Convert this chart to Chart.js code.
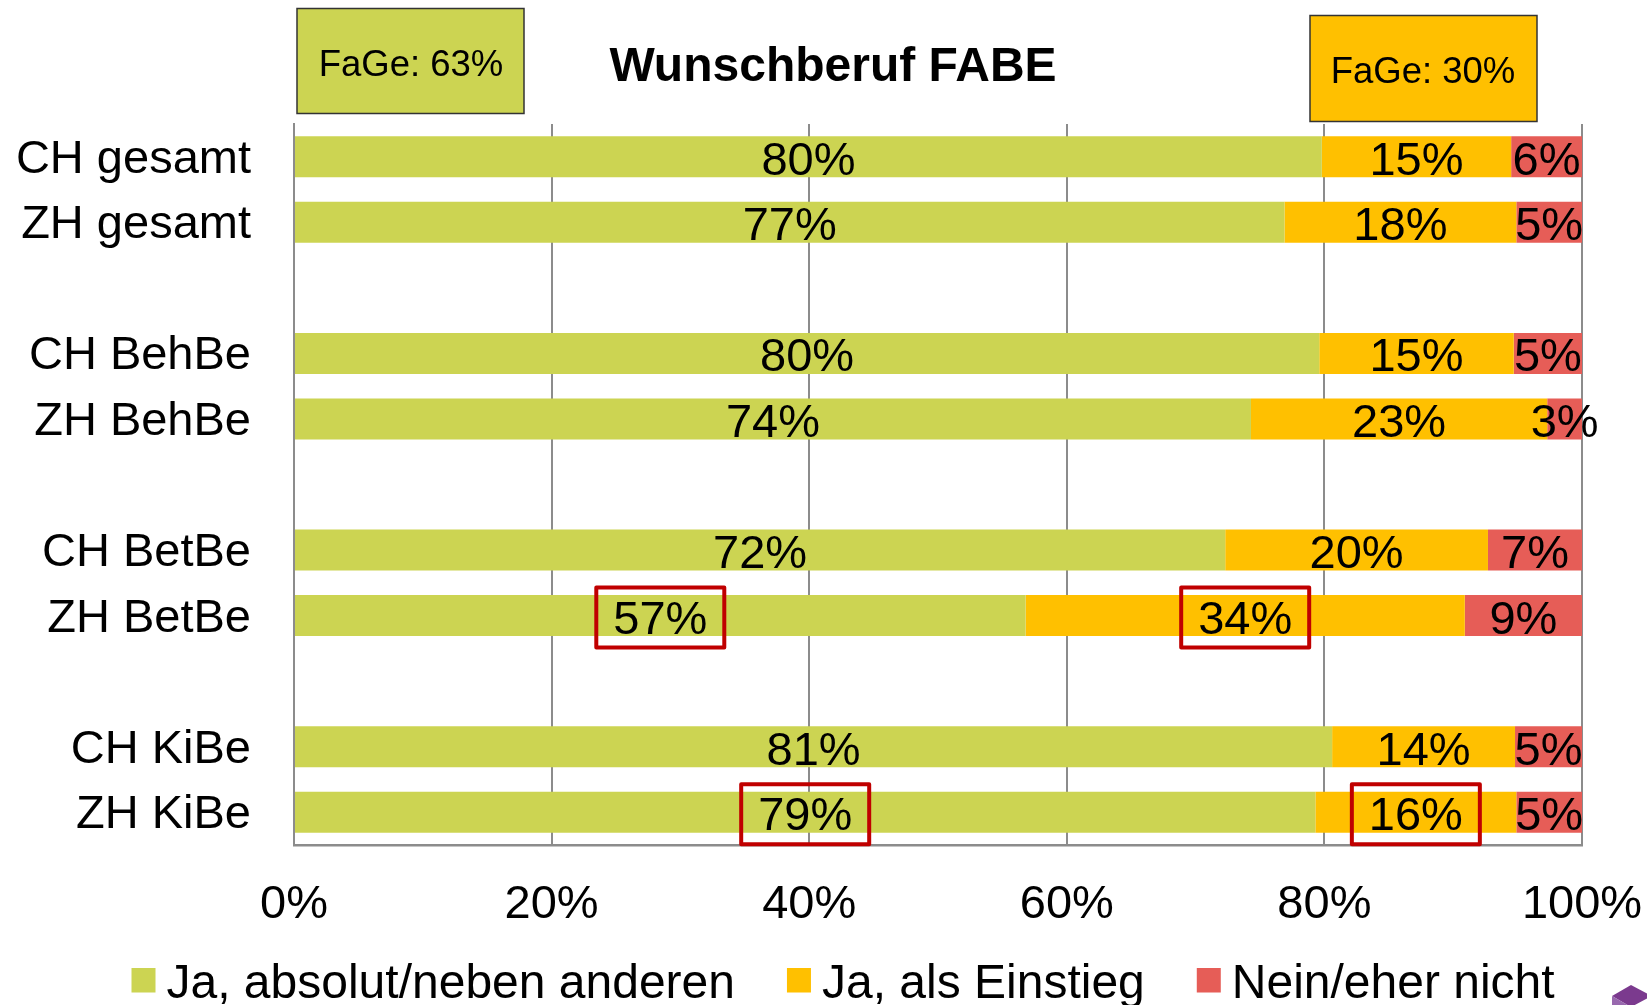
<!DOCTYPE html>
<html>
<head>
<meta charset="utf-8">
<script src="https://cdn.jsdelivr.net/npm/chart.js@4.4.1/dist/chart.umd.min.js"></script>
<style>
html,body{margin:0;padding:0;background:#fff;overflow:hidden;}
#wrap{width:1647px;height:1005px;position:relative;}
canvas{display:block;}
</style>
</head>
<body>
<div id="wrap"><canvas id="c" width="1647" height="1005"></canvas></div>
<script>
// ---- data ----
const categories = ['CH gesamt','ZH gesamt','','CH BehBe','ZH BehBe','','CH BetBe','ZH BetBe','','CH KiBe','ZH KiBe'];
const seriesNames = ['Ja, absolut/neben anderen','Ja, als Einstieg','Nein/eher nicht'];
const jaAbsolut  = [79.8, 76.9, null, 79.6, 74.3, null, 72.3, 56.8, null, 80.6, 79.3];
const jaEinstieg = [14.7, 18.0, null, 15.1, 23.0, null, 20.4, 34.1, null, 14.2, 15.6];
const neinEher   = [ 5.5,  5.1, null,  5.3,  2.7, null,  7.3,  9.1, null,  5.2,  5.1];
const xTickValues = [0, 20, 40, 60, 80, 100];
const chartTitle = 'Wunschberuf FABE';
const calloutLeft = 'FaGe: 63%';
const calloutRight = 'FaGe: 30%';
// highlighted labels: [datasetIndex, categoryIndex]
const highlighted = [[0,7],[1,7],[0,10],[1,10]];

const colors = ['#CCD452', '#FFC000', '#E65D57'];
const FONT = "'Liberation Sans', Arial, sans-serif";

const overlay = {
  id: 'overlay',
  afterDatasetsDraw(chart) {
    const ctx = chart.ctx;
    ctx.save();
    // data labels
    ctx.font = '47px ' + FONT;
    ctx.fillStyle = '#000';
    ctx.textAlign = 'center';
    ctx.textBaseline = 'middle';
    chart.data.datasets.forEach((ds, di) => {
      const meta = chart.getDatasetMeta(di);
      meta.data.forEach((el, i) => {
        const v = ds.data[i];
        if (v === null || v === undefined) return;
        const cx = (el.x + el.base) / 2;
        ctx.fillText(Math.round(v) + '%', cx, el.y + 5);
      });
    });
    // highlight boxes
    ctx.strokeStyle = '#C00000';
    ctx.lineWidth = 4;
    ctx.lineJoin = 'round';
    highlighted.forEach(([di, i]) => {
      const el = chart.getDatasetMeta(di).data[i];
      const cx = (el.x + el.base) / 2;
      const w = 128, h = 60;
      ctx.strokeRect(cx - w / 2, el.y - h / 2 + 2, w, h);
    });
    ctx.restore();
  },
  afterDraw(chart) {
    const ctx = chart.ctx;
    ctx.save();
    // title
    ctx.font = 'bold 48px ' + FONT;
    ctx.fillStyle = '#000';
    ctx.textAlign = 'center';
    ctx.textBaseline = 'alphabetic';
    ctx.fillText(chartTitle, 833, 81);
    // callout boxes
    ctx.lineWidth = 1.5;
    ctx.strokeStyle = '#333';
    ctx.fillStyle = colors[0];
    ctx.fillRect(297, 8.5, 227, 105);
    ctx.strokeRect(297, 8.5, 227, 105);
    ctx.fillStyle = colors[1];
    ctx.fillRect(1310, 15.5, 227, 106);
    ctx.strokeRect(1310, 15.5, 227, 106);
    ctx.font = '36.5px ' + FONT;
    ctx.fillStyle = '#000';
    ctx.fillText(calloutLeft, 411, 75.5);
    ctx.fillText(calloutRight, 1423, 82.5);
    // legend
    ctx.font = '48px ' + FONT;
    ctx.textAlign = 'left';
    let x = 131.5;
    chart.data.datasets.forEach((ds, di) => {
      ctx.fillStyle = ds.backgroundColor;
      ctx.fillRect(x, 968, 24, 24.5);
      ctx.fillStyle = '#000';
      ctx.fillText(ds.label, x + 35, 998);
      x += 35 + ctx.measureText(ds.label).width + 52;
    });
    // corner logo fragment
    ctx.fillStyle = '#7B3A8E';
    ctx.beginPath();
    ctx.moveTo(1631, 985); ctx.lineTo(1612, 996); ctx.lineTo(1631, 1007); ctx.lineTo(1652, 996); ctx.closePath();
    ctx.fill();
    ctx.fillStyle = '#9868AE';
    ctx.beginPath();
    ctx.moveTo(1612, 996); ctx.lineTo(1631, 1007); ctx.lineTo(1612, 1007); ctx.closePath();
    ctx.fill();
    ctx.restore();
  }
};

const datasets = [jaAbsolut, jaEinstieg, neinEher].map((d, k) => ({
  label: seriesNames[k],
  data: d,
  backgroundColor: colors[k],
  borderWidth: 0,
  categoryPercentage: 1.0,
  barPercentage: 0.625
}));

new Chart(document.getElementById('c'), {
  type: 'bar',
  data: { labels: categories, datasets },
  options: {
    indexAxis: 'y',
    responsive: false,
    animation: false,
    devicePixelRatio: 1,
    layout: { padding: { top: 124, right: 65, bottom: 0, left: 0 } },
    plugins: { legend: { display: false }, title: { display: false }, tooltip: { enabled: false } },
    scales: {
      x: {
        type: 'linear', stacked: true, min: 0, max: 100,
        afterBuildTicks(scale) { scale.ticks = xTickValues.map(v => ({ value: v })); },
        afterFit(scale) { scale.height = 160; scale.paddingLeft = 0; scale.paddingRight = 0; },
        ticks: {
          callback: v => v + '%',
          color: '#000', padding: 32,
          font: { family: FONT, size: 47 },
          maxRotation: 0, autoSkip: false
        },
        grid: { color: '#8C8C8C', lineWidth: 2, drawTicks: false, tickLength: 0 },
        border: { color: '#8C8C8C', width: 2.5 }
      },
      y: {
        stacked: true,
        afterFit(scale) { scale.width = 294; scale.paddingTop = 0; scale.paddingBottom = 0; },
        ticks: {
          color: '#000', padding: 43, autoSkip: false, labelOffset: 3,
          font: { family: FONT, size: 47 }
        },
        grid: { display: false, drawTicks: false, tickLength: 0 },
        border: { color: '#8C8C8C', width: 2 }
      }
    }
  },
  plugins: [overlay]
});
</script>
</body>
</html>
